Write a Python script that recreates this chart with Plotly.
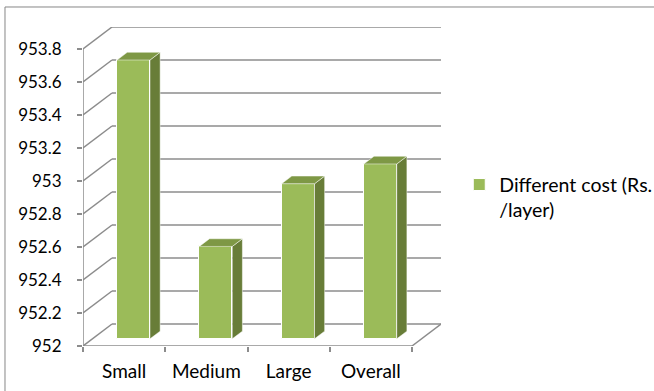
import plotly.graph_objects as go

# ---- data ----
categories = ["Small", "Medium", "Large", "Overall"]
cost = [953.69, 952.56, 952.94, 953.06]
y_ticks = [952.0, 952.2, 952.4, 952.6, 952.8, 953.0, 953.2, 953.4, 953.6, 953.8]
y_tick_labels = ["952", "952.2", "952.4", "952.6", "952.8", "953",
                 "953.2", "953.4", "953.6", "953.8"]
series_name = "Different cost (Rs.<br>/layer)"

# ---- pseudo-3D geometry (axis units) ----
DX, DY = 0.3526, 0.1333      # depth of the floor / walls
F0, F1 = 0.325, 0.675        # depth span of each column
BAR_W = 0.40
Y0 = y_ticks[0]
X_LO, X_HI = -0.5, len(categories) - 0.5

FRONT = "#9BBB59"
SIDE = "#687D38"
TOP = "#7E9845"
GRID = "#8C8C8C"
FONT = "Lato"

fig = go.Figure()

# front faces of the columns
xs = [i + F0 * DX for i in range(len(categories))]
fig.add_trace(go.Bar(
    x=xs, y=[v - Y0 for v in cost], base=Y0 + F0 * DY, width=BAR_W,
    name=series_name, marker=dict(color=FRONT, line=dict(color="white", width=1)),
    showlegend=True, hoverinfo="skip",
))

# side and top faces
t = F1 - F0
for xc, v in zip(xs, cost):
    left, right = xc - BAR_W / 2, xc + BAR_W / 2
    b, top = Y0 + F0 * DY, v + F0 * DY
    fig.add_trace(go.Scatter(
        x=[right, right, right + t * DX, right + t * DX, right],
        y=[b, top, top + t * DY, b + t * DY, b],
        fill="toself", fillcolor=SIDE, mode="lines",
        line=dict(color="rgba(255,255,255,0.6)", width=0.8),
        showlegend=False, hoverinfo="skip"))
    fig.add_trace(go.Scatter(
        x=[left, right, right + t * DX, left + t * DX, left],
        y=[top, top, top + t * DY, top + t * DY, top],
        fill="toself", fillcolor=TOP, mode="lines",
        line=dict(color="rgba(255,255,255,0.6)", width=0.8),
        showlegend=False, hoverinfo="skip"))

# walls, gridlines and floor
shapes = []
def seg(x0, y0, x1, y1):
    shapes.append(dict(type="line", xref="x", yref="y", x0=x0, y0=y0, x1=x1, y1=y1,
                       line=dict(color=GRID, width=1.5), layer="below"))

for tv in y_ticks:
    seg(X_LO, tv, X_LO + DX, tv + DY)
    seg(X_LO + DX, tv + DY, X_HI + DX, tv + DY)
seg(X_LO, Y0, X_LO, y_ticks[-1])
seg(X_LO, Y0, X_HI, Y0)
seg(X_HI, Y0, X_HI + DX, Y0 + DY)

# outer chart border
shapes.append(dict(type="rect", xref="paper", yref="paper",
                   x0=-0.2179, x1=2, y0=-1, y1=1.0627,
                   line=dict(color="#868686", width=1), layer="below"))

fig.update_layout(
    width=654, height=391,
    margin=dict(l=83, r=213, t=27, b=45, autoexpand=False),
    paper_bgcolor="white", plot_bgcolor="white",
    font=dict(family=FONT, size=18, color="black"),
    shapes=shapes,
    bargap=0,
    showlegend=True,
    legend=dict(x=1.051, y=0.466, xanchor="left", yanchor="middle",
                valign="top", font=dict(family=FONT, size=19.5, color="black"),
                bgcolor="rgba(0,0,0,0)", itemwidth=30),
    xaxis=dict(range=[X_LO, X_HI + DX], tickvals=list(range(len(categories))),
               ticktext=categories, ticks="", showgrid=False, zeroline=False,
               showline=False, ticklabelstandoff=12, automargin=False,
               tickfont=dict(family=FONT, size=19, color="black"),
               minor=dict(tickvals=[X_LO + k for k in range(len(categories) + 1)],
                          ticks="outside", ticklen=5, tickcolor=GRID, tickwidth=1.5,
                          showgrid=False)),
    yaxis=dict(range=[Y0, y_ticks[-1] + DY], tickvals=y_ticks, ticktext=y_tick_labels,
               ticks="outside", ticklen=5, tickcolor=GRID, tickwidth=1.5,
               tickfont=dict(family=FONT, size=17, color="black"), automargin=False,
               showgrid=False, zeroline=False, showline=False, ticklabelstandoff=12),
)

fig.write_html("out.html")
